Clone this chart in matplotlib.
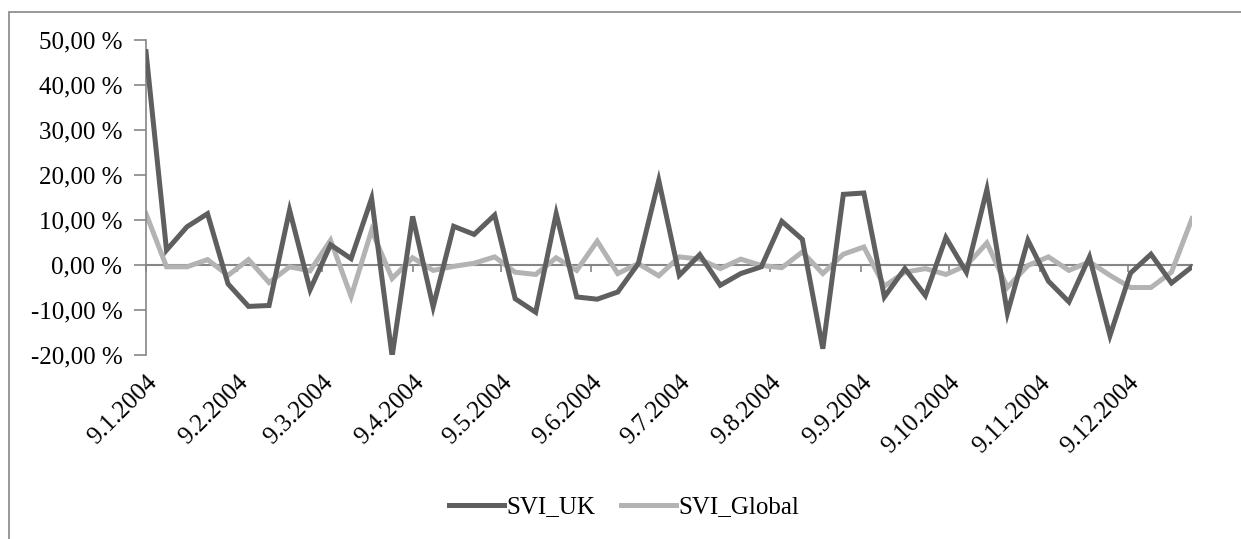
import pandas as pd
import numpy as np
import matplotlib
matplotlib.use("Agg")
import matplotlib.pyplot as plt
from matplotlib.ticker import FuncFormatter, MultipleLocator
from matplotlib.patches import Rectangle

# ==========================================
# DATA (weekly changes, %)
# ==========================================

start_date = "2004-01-09"
n_weeks = 52

svi_uk = [47.4, 3.3, 8.5, 11.4, -4.2, -9.2, -9.0, 12.2, -5.5, 4.5,
          1.4, 14.8, -20.3, 10.8, -9.3, 8.6, 6.8, 11.1, -7.5, -10.5,
          11.4, -7.1, -7.6, -6.0, 0.3, 18.8, -2.3, 2.3, -4.5, -1.9,
          -0.4, 9.7, 5.7, -18.6, 15.7, 16.0, -7.1, -0.8, -6.8, 6.1,
          -1.6, 16.8, -10.7, 5.5, -3.6, -8.2, 1.8, -15.7, -1.8, 2.4,
          -4.0, -0.4]

svi_global = [11.4, -0.4, -0.4, 1.2, -2.3, 1.2, -3.9, -0.4, -1.3, 5.5,
              -7.0, 7.7, -3.0, 1.6, -1.2, -0.3, 0.4, 1.8, -1.6, -2.1,
              1.6, -1.2, 5.3, -1.9, 0.3, -2.4, 1.8, 1.3, -0.8, 1.3,
              -0.1, -0.6, 2.9, -1.9, 2.4, 4.0, -4.7, -1.6, -0.8, -2.1,
              -0.1, 4.9, -5.0, -0.1, 1.8, -1.2, 0.7, -2.3, -5.0, -5.0,
              -1.6, 10.3]

tick_labels = ["9.1.2004", "9.2.2004", "9.3.2004", "9.4.2004", "9.5.2004",
               "9.6.2004", "9.7.2004", "9.8.2004", "9.9.2004", "9.10.2004",
               "9.11.2004", "9.12.2004"]

dates = pd.date_range(start=start_date, periods=n_weeks, freq="7D")
tick_dates = pd.to_datetime(tick_labels, format="%d.%m.%Y")

# ==========================================
# STYLE
# ==========================================

plt.rcParams["font.family"] = ["Liberation Serif", "DejaVu Serif"]
plt.rcParams["font.size"] = 18

uk_color = "#5f5f5f"
global_color = "#b3b3b3"
axis_color = "#868686"

# ==========================================
# PLOT
# ==========================================

fig = plt.figure(figsize=(12.41, 5.39), dpi=100)
ax = fig.add_axes([146 / 1241, 1 - 355 / 539, (1192 - 146) / 1241, 315 / 539])

ax.plot(dates, np.array(svi_uk) / 100, color=uk_color, lw=3.6,
        label="SVI_UK", solid_joinstyle="miter", zorder=3)
ax.plot(dates, np.array(svi_global) / 100, color=global_color, lw=3.6,
        label="SVI_Global", solid_joinstyle="miter", zorder=2)

ax.set_xlim(dates[0], dates[-1])
ax.set_ylim(-0.20, 0.50)

# y axis
ax.yaxis.set_major_locator(MultipleLocator(0.10))
ax.yaxis.set_major_formatter(
    FuncFormatter(lambda v, p: f"{v * 100:.2f}".replace(".", ",") + " %"))
ax.tick_params(axis="y", direction="out", length=9, width=1.2,
               color=axis_color, pad=8, labelsize=18)

for side in ["top", "right", "bottom"]:
    ax.spines[side].set_visible(False)
ax.spines["left"].set_color(axis_color)
ax.spines["left"].set_linewidth(1.2)

# x labels at the bottom of the plot area
ax.set_xticks(tick_dates)
ax.set_xticklabels(tick_labels, rotation=45, ha="right",
                   rotation_mode="anchor", fontsize=18)
ax.tick_params(axis="x", length=0, pad=12)

# horizontal axis line at zero with small ticks
sec = ax.secondary_xaxis(20 / 70)
sec.spines["bottom"].set_color(axis_color)
sec.spines["bottom"].set_linewidth(1.5)
sec.set_xticks(tick_dates)
sec.set_xticklabels([])
sec.tick_params(axis="x", direction="out", length=5, width=1.2,
                color=axis_color)

# legend
ax.legend(loc="center", bbox_to_anchor=(624 / 1241, 1 - 507 / 539),
          bbox_transform=fig.transFigure, ncol=2, frameon=False,
          handlelength=2.2, handletextpad=0.1, columnspacing=1.0,
          fontsize=18)

# chart area border
fig.add_artist(Rectangle((9 / 1241, -0.05), 1.1, 1 - 12 / 539 + 0.05,
                         transform=fig.transFigure, fill=False,
                         edgecolor=axis_color, lw=1.2))

fig.savefig("out.png", dpi=100)
